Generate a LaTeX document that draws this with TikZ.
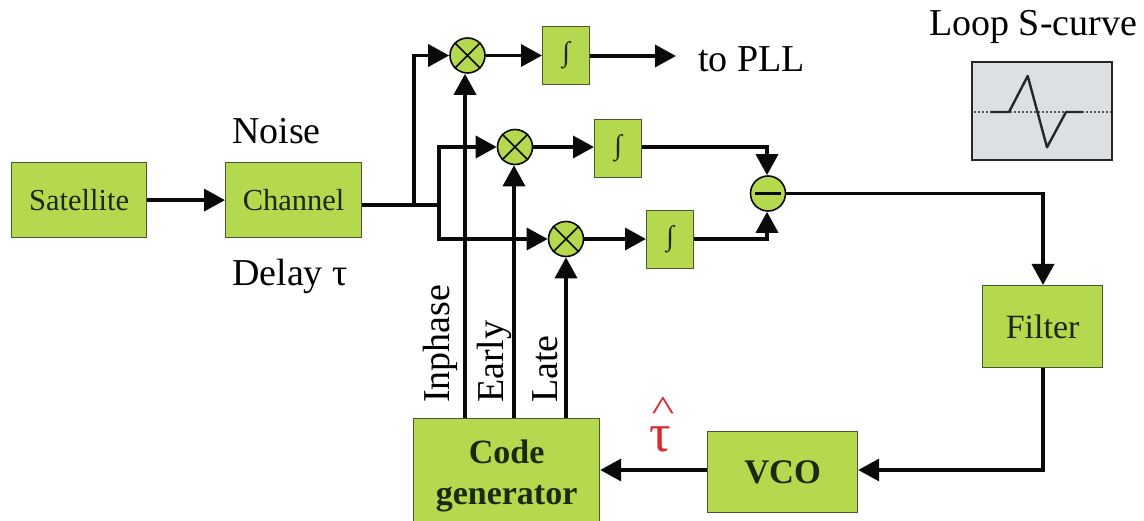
\documentclass[tikz,border=0pt]{standalone}
\usepackage{fontspec}
\usepackage{graphicx}
\setmainfont{Liberation Serif}
\usetikzlibrary{arrows.meta}
\definecolor{boxgreen}{HTML}{B4D84E}
\definecolor{boxedge}{HTML}{4A5A30}
\definecolor{scopegray}{HTML}{DDE0E2}
\definecolor{wire}{HTML}{0A0A0A}
\definecolor{boxtext}{HTML}{1A2A10}
\definecolor{hatred}{HTML}{DA2A2A}
\tikzset{
  gbox/.style={draw=boxedge,line width=1.2pt,fill=boxgreen,inner sep=0pt,anchor=north west,text=boxtext},
  mult/.style={circle,draw=wire,line width=1.6pt,fill=boxgreen,minimum size=35pt,inner sep=0pt},
  wireline/.style={draw=wire,line width=3.6pt},
  arrowline/.style={wireline,-{Triangle[length=21pt,width=22pt]}},
  freetext/.style={inner sep=0pt,font=\fontsize{38}{42}\selectfont},
  sidetext/.style={inner sep=0pt,rotate=90,font=\fontsize{38}{42}\selectfont},
}
\begin{document}
\begin{tikzpicture}[x=1pt,y=-1pt]
\useasboundingbox (0,0) rectangle (1144,521);
% boxes
\node[gbox,minimum width=135pt,minimum height=75pt,font=\fontsize{30.5}{34}\selectfont] (sat) at (11,162) {Satellite};
\node[gbox,minimum width=136pt,minimum height=75pt,font=\fontsize{30.5}{34}\selectfont] (chan) at (225,162) {Channel};
\node[gbox,minimum width=47pt,minimum height=58pt,font=\fontsize{28}{30}\selectfont] (intI) at (542,26) {∫};
\node[gbox,minimum width=47pt,minimum height=58pt,font=\fontsize{28}{30}\selectfont] (intE) at (594,119) {∫};
\node[gbox,minimum width=47pt,minimum height=58pt,font=\fontsize{28}{30}\selectfont] (intL) at (646,210) {∫};
\node[gbox,minimum width=120pt,minimum height=82pt,font=\fontsize{34}{38}\selectfont] (filter) at (982,285) {Filter};
\node[gbox,minimum width=150pt,minimum height=81pt,font=\bfseries\fontsize{34.5}{38}\selectfont] (vco) at (707,431) {VCO};
\node[gbox,minimum width=186pt,minimum height=114pt,align=center,font=\bfseries\fontsize{34}{41}\selectfont] (code) at (413,418) {Code\\generator};
% mixers
\node[mult] (mI) at (467.5,55.5) {};
\node[mult] (mE) at (515,147) {};
\node[mult] (mL) at (566,239) {};
\node[mult] (sub) at (768,193.5) {};
\foreach \m in {mI,mE,mL}{
  \draw[draw=wire,line width=1.6pt] (\m.north west) -- (\m.south east) (\m.north east) -- (\m.south west);
}
\draw[draw=wire,line width=3.5pt] ([xshift=5pt]sub.west) -- ([xshift=-5pt]sub.east);
% bends
\coordinate (fork1) at (414,205);
\coordinate (fork2) at (439,205);
\coordinate (bendI) at (414,55.5);
\coordinate (bendE) at (439,147);
\coordinate (bendL) at (439,239);
\coordinate (bendA) at (767,147);
\coordinate (bendB) at (767,239);
\coordinate (bendC) at (1043,193.5);
\coordinate (bendD) at (1043,470);
\coordinate (pll) at (676,56);
% wires
\draw[arrowline] (sat.east) -- (chan.west);
\draw[wireline] (chan.east |- fork2) -- (fork2);
\draw[arrowline] (fork1) -- (bendI) -- (mI.west);
\draw[arrowline] (fork2) -- (bendE) -- (mE.west);
\draw[arrowline] (fork2) -- (bendL) -- (mL.west);
\draw[arrowline] (mI.east) -- (intI.west |- mI.east);
\draw[arrowline] (mE.east) -- (intE.west |- mE.east);
\draw[arrowline] (mL.east) -- (intL.west |- mL.east);
\draw[arrowline] (intI.east |- pll) -- (pll);
\draw[arrowline] (intE.east |- bendA) -- (bendA) -- (sub.north -| bendA);
\draw[arrowline] (intL.east |- bendB) -- (bendB) -- (sub.south -| bendB);
\draw[arrowline] (sub.east) -- (bendC) -- (filter.north -| bendC);
\draw[arrowline] (filter.south -| bendD) -- (bendD) -- (vco.east |- bendD);
\draw[arrowline] (vco.west |- bendD) -- (code.east |- bendD);
\draw[arrowline] ([xshift=-2.5pt]code.north -| mI.south) -- ([xshift=-2.5pt]mI.south);
\draw[arrowline] ([xshift=-1pt]code.north -| mE.south) -- ([xshift=-1pt]mE.south);
\draw[arrowline] (code.north -| mL.south) -- (mL.south);
% texts
\node[freetext,anchor=base west] (noise) at (232,144) {Noise};
\node[freetext,anchor=base west] (delay) at (232,286) {Delay τ};
\node[freetext,anchor=base west] (toPLL) at (698,72) {to PLL};
\node[freetext,anchor=base west] (scurve) at (929,36) {Loop S-curve};
\node[sidetext,anchor=base west] (lI) at (449,403) {Inphase};
\node[sidetext,anchor=base west] (lE) at (503,403) {Early};
\node[sidetext,anchor=base west] (lL) at (557,403) {Late};
\node[inner sep=0pt,text=hatred,font=\fontsize{54}{54}\selectfont,anchor=base] (tauhat) at (660,451) {\rlap{\kern2.5pt\raisebox{30pt}{\scalebox{1.1}[0.8]{\fontsize{44}{44}\selectfont\^{}}}}τ};
% S-curve panel
\node[draw=black!85,line width=2pt,fill=scopegray,minimum width=140pt,minimum height=98pt,inner sep=0pt,anchor=north west] (panel) at (971,61) {};
\draw[black!65,line width=2pt,dotted] ([xshift=3pt]panel.west |- 0,112) -- ([xshift=-2pt]panel.east |- 0,112);
\draw[black!85,line width=2.4pt,line join=round] (990.7,112) -- (1009,112) -- (1027.7,76) -- (1047,147.3) -- (1066,112) -- (1082.7,112);
\end{tikzpicture}
\end{document}
